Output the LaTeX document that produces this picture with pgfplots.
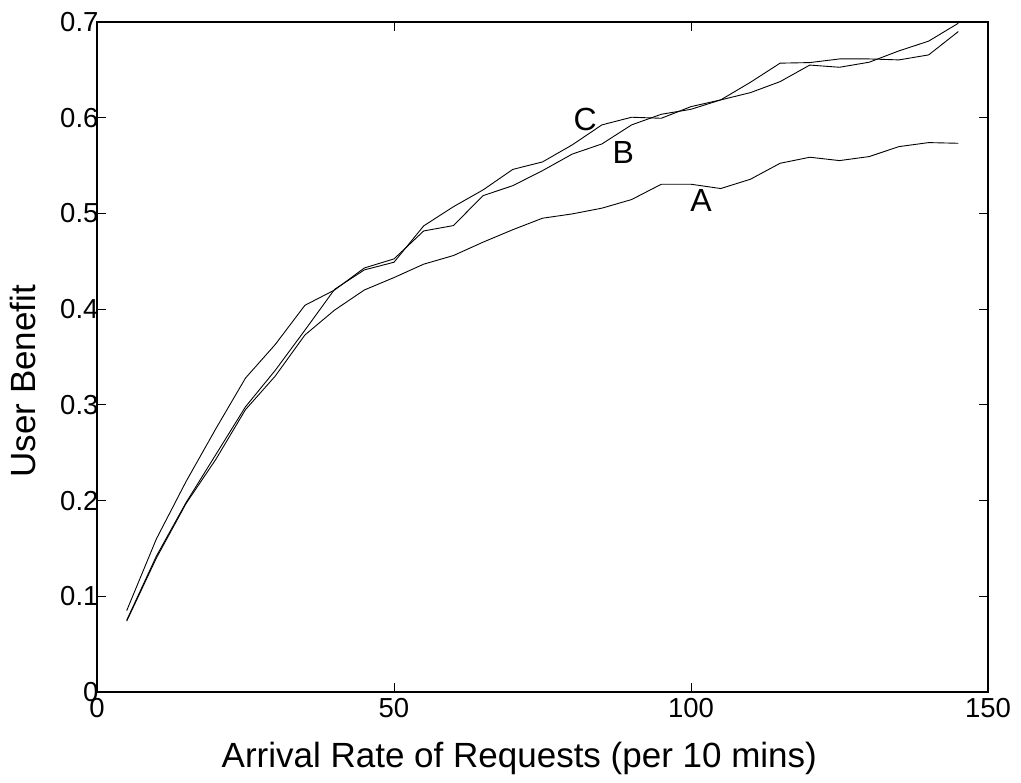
\documentclass[border=0pt]{standalone}
\usepackage{fontspec}
\setmainfont{Liberation Sans}
\usepackage{pgfplots}
\pgfplotsset{compat=1.18}
\begin{document}
\begin{tikzpicture}
\begin{axis}[
  scale only axis, width=891pt, height=670pt,
  xmin=0, xmax=150, ymin=0, ymax=0.7,
  xtick={0,50,100,150},
  ytick={0,0.1,0.2,0.3,0.4,0.5,0.6,0.7},
  yticklabels={0,0.1,0.2,0.3,0.4,0.5,0.6,0.7},
  tick align=inside, major tick length=9pt,
  tick style={line width=0.8pt, black},
  axis line style={line width=1.2pt},
  /pgf/number format/assume math mode=true,
  tick label style={font=\fontsize{27.5}{32}\selectfont},
  yticklabel style={xshift=5pt},
  xticklabel style={yshift=-3pt},
  xlabel={Arrival Rate of Requests (per 10 mins)},
  ylabel={User Benefit},
  xlabel style={at={(rel axis cs:0.474,-0.1134)}, anchor=base, inner sep=0pt, font=\fontsize{35}{42}\selectfont},
  ylabel style={at={(rel axis cs:-0.0685,0.464)}, anchor=south, inner sep=0pt, font=\fontsize{35}{42}\selectfont},
  clip=false,
]
\addplot[black, line width=0.9pt] coordinates {(5,0.074)(10,0.140)(15,0.197)(20,0.243)(25,0.295)(30,0.330)(35,0.373)(40,0.399)(45,0.420)(50,0.433)(55,0.447)(60,0.456)(65,0.470)(70,0.483)(75,0.495)(80,0.4995)(85,0.5055)(90,0.5145)(95,0.5305)(100,0.5305)(105,0.526)(110,0.5357)(115,0.5524)(120,0.5587)(125,0.5552)(130,0.5594)(135,0.5698)(140,0.574)(145,0.5733)};
\addplot[black, line width=0.9pt] coordinates {(5,0.085)(10,0.160)(15,0.220)(20,0.275)(25,0.328)(30,0.363)(35,0.404)(40,0.420)(45,0.443)(50,0.4525)(55,0.4817)(60,0.4873)(65,0.5186)(70,0.529)(75,0.5447)(80,0.562)(85,0.5726)(90,0.5925)(95,0.6036)(100,0.6088)(105,0.6186)(110,0.6262)(115,0.6377)(120,0.655)(125,0.6527)(130,0.658)(135,0.6698)(140,0.680)(145,0.6987)};
\addplot[black, line width=0.9pt] coordinates {(5,0.075)(10,0.142)(15,0.198)(20,0.248)(25,0.298)(30,0.336)(35,0.378)(40,0.4207)(45,0.441)(50,0.449)(55,0.487)(60,0.507)(65,0.5246)(70,0.546)(75,0.5538)(80,0.5716)(85,0.5925)(90,0.6005)(95,0.5994)(100,0.6116)(105,0.6186)(110,0.637)(115,0.657)(120,0.6576)(125,0.6614)(130,0.6614)(135,0.6604)(140,0.6656)(145,0.690)};
\node[font=\fontsize{32}{38}\selectfont, inner sep=0pt] at (axis cs:101.7,0.513) {A};
\node[font=\fontsize{32}{38}\selectfont, inner sep=0pt] at (axis cs:88.6,0.5637) {B};
\node[font=\fontsize{32}{38}\selectfont, inner sep=0pt] at (axis cs:82.2,0.598) {C};
\coordinate (sw) at (rel axis cs:0,0);
\coordinate (ne) at (rel axis cs:1,1);
\end{axis}
\path ([shift={(-97pt,-90pt)}]sw) rectangle ([shift={(33pt,22pt)}]ne);
\end{tikzpicture}
\end{document}
